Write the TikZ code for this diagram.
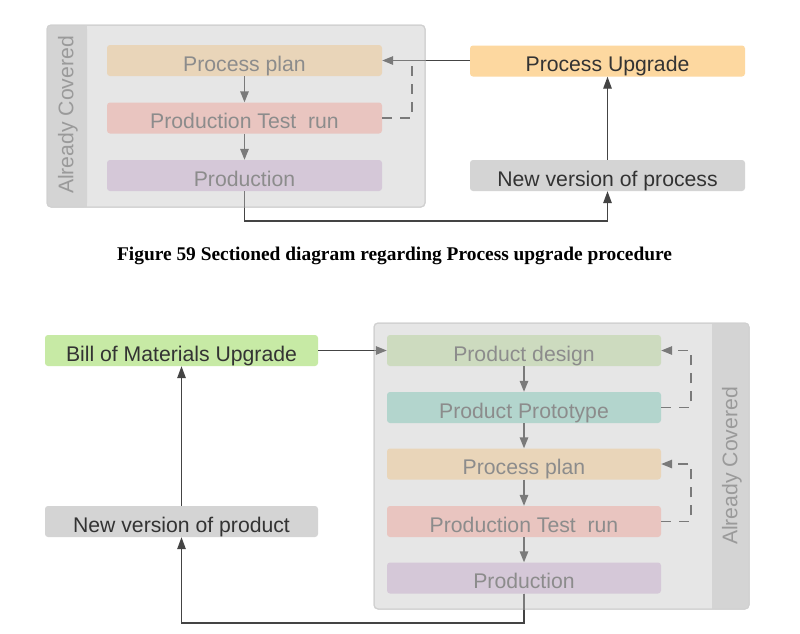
\documentclass[tikz,border=0pt]{standalone}
\usepackage{fontspec}
\setmainfont{Liberation Sans}
\newfontfamily\capfont{Liberation Serif}
\usetikzlibrary{arrows.meta}
\definecolor{contfill}{HTML}{E6E6E6}
\definecolor{contline}{HTML}{D0D0D0}
\definecolor{bandfill}{HTML}{D4D4D4}
\definecolor{fadetext}{HTML}{8C8C8C}
\definecolor{bandtext}{HTML}{9A9A9A}
\definecolor{darktext}{HTML}{333333}
\definecolor{darkline}{HTML}{444444}
\definecolor{fadeline}{HTML}{7A7A7A}
\definecolor{planfill}{HTML}{E9D5B9}
\definecolor{testfill}{HTML}{E9C5C0}
\definecolor{prodfill}{HTML}{D5C8D8}
\definecolor{designfill}{HTML}{CDDBBF}
\definecolor{protofill}{HTML}{B3D5CD}
\definecolor{upgfill}{HTML}{FDD8A0}
\definecolor{bomfill}{HTML}{C7EAA5}
\definecolor{newfill}{HTML}{D4D4D4}
\tikzset{
  box/.style={rectangle, rounded corners=3pt, minimum height=31pt, inner sep=0pt,
    text height=21pt, text depth=0pt,
    font=\fontsize{21.2}{24}\selectfont},
  inbox/.style={box, minimum width=275pt, text=fadetext},
  outbox/.style={box, minimum width=274pt, text=darktext},
  container/.style={rectangle, rounded corners=4pt, fill=contfill, draw=contline, line width=1pt, inner sep=0pt},
  bandbox/.style={rectangle, rounded corners=4pt, fill=bandfill, inner sep=0pt},
  bandlabel/.style={rotate=90, text=bandtext, font=\fontsize{21.2}{24}\selectfont},
  darkarrow/.style={draw=darkline, line width=1.4pt, -{Triangle[length=12pt,width=8.5pt]}},
  darkseg/.style={draw=darkline, line width=1.4pt},
  fadearrow/.style={draw=fadeline, line width=1.4pt, -{Triangle[length=11pt,width=8.5pt]}},
  fadeseg/.style={draw=fadeline, line width=1.4pt},
  fbdash/.style={draw=fadeline, line width=1.4pt, dash pattern=on 10pt off 8pt},
}
\begin{document}
\begin{tikzpicture}[x=1pt,y=-1pt]
\useasboundingbox (0,0) rectangle (800,633);
\fill[white] (0,0) rectangle (800,633);

% ---------------- top diagram ----------------
\node[container, minimum width=378pt, minimum height=182pt] (cont1) at (236,116) {};
\node[bandbox, minimum width=40pt, minimum height=182pt] (band1) at (67,116) {};
\fill[bandfill] (77,25.5) rectangle (87,206.5);
\draw[contline, line width=1pt, rounded corners=4pt] (47,25) rectangle (425,207);
\node[bandlabel] (lab1) at (68,115) {Already Covered};

\node[inbox, fill=planfill] (pp1) at (244.5,60.5) {Process plan};
\node[inbox, fill=testfill] (ptr1) at (244.5,118) {Production Test\ \ run};
\node[inbox, fill=prodfill] (prod1) at (244.5,175.5) {Production};

\node[outbox, minimum width=275pt, fill=upgfill] (pu) at (607.5,61) {Process Upgrade};
\node[outbox, minimum width=275pt, fill=newfill] (nvp) at (607.5,175.5) {New version of process};

\coordinate (low1) at (0,221);
\coordinate (fb1) at (412,0);

\draw[fadearrow] (pp1) -- (ptr1);
\draw[fadearrow] (ptr1) -- (prod1);
\draw[fbdash] (ptr1.east) -- (ptr1.east -| fb1) -- (fb1 |- pp1.east);
\draw[fadearrow] (pu.west |- pp1.east) -- (pp1.east);
\draw[darkseg] (pu.west |- pp1.east) -- (cont1.east |- pp1.east);
\draw[darkarrow] (nvp) -- (pu);
\draw[darkarrow] (prod1.south) -- (prod1.south |- low1) -| (nvp.south);
\draw[fadeseg] (prod1.south) -- (prod1.south |- cont1.south);

% caption
\node[font=\capfont\bfseries\fontsize{19.4}{22}\selectfont, text=black] (cap) at (394.5,256)
  {Figure 59 Sectioned diagram regarding Process upgrade procedure};

% ---------------- bottom diagram ----------------
\node[container, minimum width=375pt, minimum height=286pt] (cont2) at (561.5,466) {};
\node[bandbox, minimum width=37pt, minimum height=286pt] (band2) at (730.5,466) {};
\fill[bandfill] (712,323.5) rectangle (722,608.5);
\draw[contline, line width=1pt, rounded corners=4pt] (374,323) rectangle (749,609);
\node[bandlabel] (lab2) at (732,466) {Already Covered};

\node[inbox, minimum width=274pt, fill=designfill] (pd) at (524,350.5) {Product design};
\node[inbox, minimum width=274pt, fill=protofill] (ppt) at (524,407.5) {Product Prototype};
\node[inbox, minimum width=274pt, fill=planfill] (pp2) at (524,464) {Process plan};
\node[inbox, minimum width=274pt, fill=testfill] (ptr2) at (524,521.5) {Production Test\ \ run};
\node[inbox, minimum width=274pt, fill=prodfill] (prod2) at (524,578) {Production};

\node[outbox, minimum width=273pt, fill=bomfill] (bom) at (181.5,350.5) {Bill of Materials Upgrade};
\node[outbox, minimum width=273pt, fill=newfill] (nvprod) at (181.5,521.5) {New version of product};

\coordinate (low2) at (0,623);
\coordinate (fb2) at (691,0);

\draw[fadearrow] (pd) -- (ppt);
\draw[fadearrow] (ppt) -- (pp2);
\draw[fadearrow] (pp2) -- (ptr2);
\draw[fadearrow] (ptr2) -- (prod2);
\draw[fbdash, -{Triangle[length=11pt,width=8.5pt]}] (ppt.east) -- (ppt.east -| fb2) |- (pd.east);
\draw[fbdash, -{Triangle[length=11pt,width=8.5pt]}] (ptr2.east) -- (ptr2.east -| fb2) |- (pp2.east);
\draw[fadearrow] (bom.east) -- (pd.west);
\draw[darkseg] (bom.east) -- (cont2.west |- bom.east);
\draw[darkarrow] (nvprod) -- (bom);
\draw[darkarrow] (prod2.south) -- (prod2.south |- low2) -| (nvprod.south);
\draw[fadeseg] (prod2.south) -- (prod2.south |- cont2.south);
\end{tikzpicture}
\end{document}
